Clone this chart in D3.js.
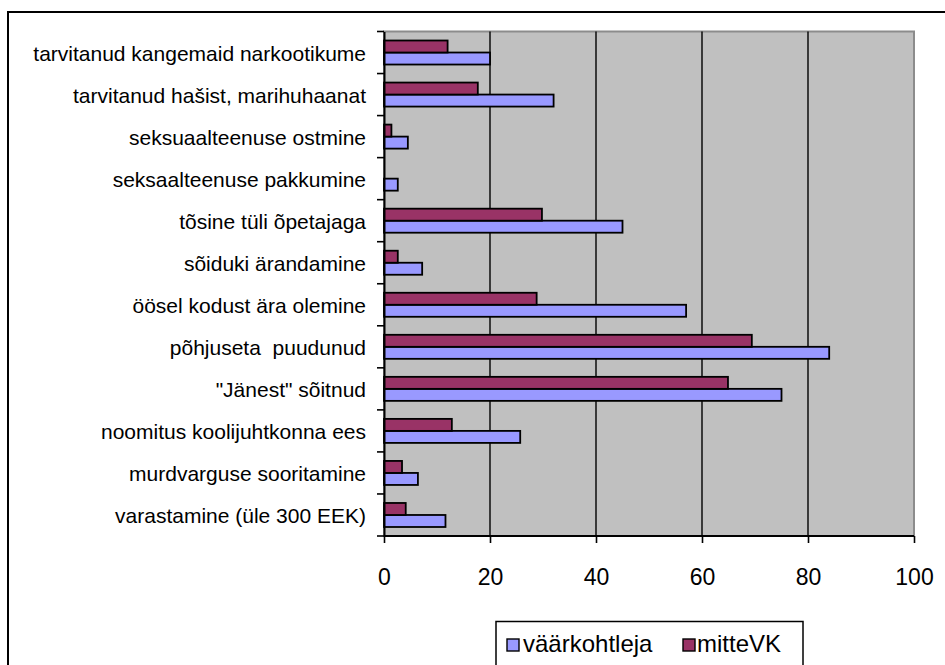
<!DOCTYPE html>
<html>
<head>
<meta charset="utf-8">
<script src="https://cdn.jsdelivr.net/npm/d3@7"></script>
<style>
  html, body { margin: 0; padding: 0; background: #fff; }
  svg { display: block; }
  text { font-family: "Liberation Sans", Arial, sans-serif; fill: #000; white-space: pre; }
</style>
</head>
<body>
<svg id="chart" width="945" height="665"></svg>
<script>
// Categories, top to bottom as displayed
const categories = [
  "tarvitanud kangemaid narkootikume",
  "tarvitanud hašist, marihuhaanat",
  "seksuaalteenuse ostmine",
  "seksaalteenuse pakkumine",
  "tõsine tüli õpetajaga",
  "sõiduki ärandamine",
  "öösel kodust ära olemine",
  "põhjuseta  puudunud",
  "\"Jänest\" sõitnud",
  "noomitus koolijuhtkonna ees",
  "murdvarguse sooritamine",
  "varastamine (üle 300 EEK)"
];
const seriesNames = ["väärkohtleja", "mitteVK"];
const vaarkohtleja = [20, 32, 4.5, 2.6, 45, 7.2, 57, 84, 75, 25.7, 6.4, 11.6];
const mitteVK     = [12, 17.7, 1.4, 0, 29.8, 2.6, 28.8, 69.4, 64.9, 12.8, 3.4, 4.1];
const xTicks = [0, 20, 40, 60, 80, 100];

const colors = { "väärkohtleja": "#9999FF", "mitteVK": "#993366" };

const svg = d3.select("#chart");

// outer chart border (extends past the right/bottom edges)
svg.append("rect")
  .attr("x", 8).attr("y", 12)
  .attr("width", 1000).attr("height", 700)
  .attr("fill", "#fff").attr("stroke", "#000").attr("stroke-width", 2);

const plotTop = 31.5, plotBottom = 536;
const x = d3.scaleLinear().domain([0, 100]).range([384, 914]);
const y0 = d3.scaleBand().domain(categories).range([plotTop, plotBottom]).paddingInner(0).paddingOuter(0);
// within each band: mitteVK on top, väärkohtleja below
const y1 = d3.scaleBand().domain(["mitteVK", "väärkohtleja"]).range([0, y0.bandwidth()])
  .paddingInner(0).paddingOuter(0.75);

// plot area
svg.append("rect")
  .attr("x", x(0)).attr("y", plotTop)
  .attr("width", x(100) - x(0)).attr("height", plotBottom - plotTop)
  .attr("fill", "#C0C0C0").attr("stroke", "#8c8c8c").attr("stroke-width", 2);

// gridlines
svg.append("g").selectAll("line")
  .data(xTicks.filter(t => t > 0 && t < 100))
  .join("line")
  .attr("x1", d => x(d)).attr("x2", d => x(d))
  .attr("y1", plotTop).attr("y2", plotBottom)
  .attr("stroke", "#000").attr("stroke-width", 1.4);

// bars
const rows = categories.map((c, i) => ({ cat: c, "väärkohtleja": vaarkohtleja[i], "mitteVK": mitteVK[i] }));
const groups = svg.append("g").selectAll("g")
  .data(rows).join("g")
  .attr("transform", d => `translate(0,${y0(d.cat)})`);
groups.selectAll("rect")
  .data(d => seriesNames.map(s => ({ s, v: d[s] })).filter(e => e.v > 0))
  .join("rect")
  .attr("x", x(0))
  .attr("y", d => y1(d.s))
  .attr("width", d => x(d.v) - x(0))
  .attr("height", y1.bandwidth())
  .attr("fill", d => colors[d.s])
  .attr("stroke", "#000").attr("stroke-width", 1.8);

// y axis
const yAxis = d3.axisLeft(y0).tickSize(0).tickFormat("");
const yAxisG = svg.append("g").attr("transform", `translate(${x(0)},0)`).call(yAxis);
yAxisG.select(".domain").attr("stroke", "#000").attr("stroke-width", 2);
// boundary ticks between categories
const bounds = categories.map(c => y0(c)).concat([plotBottom]);
svg.append("g").selectAll("line").data(bounds).join("line")
  .attr("x1", x(0) - 7).attr("x2", x(0))
  .attr("y1", d => d).attr("y2", d => d)
  .attr("stroke", "#000").attr("stroke-width", 1.6);
// category labels
svg.append("g").selectAll("text").data(categories).join("text")
  .attr("x", 366)
  .attr("y", d => y0(d) + y0.bandwidth() / 2 + 8)
  .attr("text-anchor", "end")
  .attr("font-size", "21px")
  .text(d => d);

// x axis
const xAxis = d3.axisBottom(x).tickValues(xTicks).tickSize(7).tickFormat(d3.format("d"));
const xAxisG = svg.append("g").attr("transform", `translate(0,${plotBottom})`).call(xAxis);
xAxisG.select(".domain").attr("stroke", "#000").attr("stroke-width", 2).attr("d", `M${x(0)},0H${x(100)}`);
xAxisG.selectAll(".tick line").attr("stroke", "#000").attr("stroke-width", 1.6);
xAxisG.selectAll(".tick text")
  .attr("y", 49).attr("dy", null)
  .attr("font-size", "23px")
  .attr("font-family", "'Liberation Sans', Arial, sans-serif")
  .attr("fill", "#000");

// legend
const legend = svg.append("g");
legend.append("rect")
  .attr("x", 496).attr("y", 621.5).attr("width", 307).attr("height", 80)
  .attr("fill", "#fff").attr("stroke", "#000").attr("stroke-width", 1.5);
const legendItems = [
  { name: "väärkohtleja", mx: 507, tx: 523 },
  { name: "mitteVK", mx: 683, tx: 697 }
];
legend.selectAll("rect.m").data(legendItems).join("rect")
  .attr("class", "m")
  .attr("x", d => d.mx).attr("y", 639)
  .attr("width", 12).attr("height", 12)
  .attr("fill", d => colors[d.name]).attr("stroke", "#000").attr("stroke-width", 1.4);
legend.selectAll("text").data(legendItems).join("text")
  .attr("x", d => d.tx).attr("y", 652)
  .attr("font-size", "24px")
  .text(d => d.name);
</script>
</body>
</html>
